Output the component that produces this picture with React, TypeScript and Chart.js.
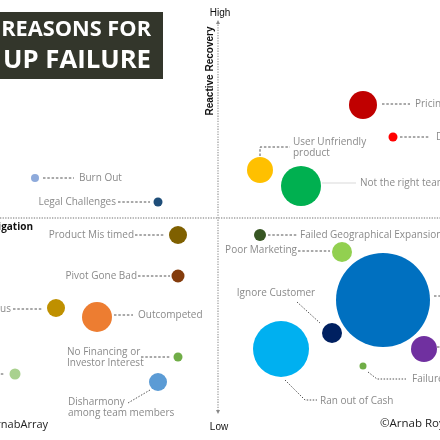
import React, { useEffect, useRef } from "react";
import { Chart, registerables } from "chart.js";

Chart.register(...registerables);

// ---- data ----
const reasons: string[] = [
  "Burn Out",
  "Legal Challenges",
  "Pricing / Cost Issues",
  "Don't Use Network",
  "User Unfriendly\nproduct",
  "Not the right team",
  "Product Mis timed",
  "Pivot Gone Bad",
  "Lose Focus",
  "Outcompeted",
  "No Financing or\nInvestor Interest",
  "Lack Passion",
  "Disharmony\namong team members",
  "Failed Geographical Expansion",
  "Poor Marketing",
  "No Market Need",
  "Ignore Customer",
  "Ran out of Cash",
  "Product Without Business Model",
  "Failure to Pivot",
];
// x: Proactive Mitigation, y: Reactive Recovery
const mitigation: number[] = [-183, -60, 145, 175, 42, 83, -40, -40, -162, -121, -40, -203, -60, 42, 124, 165, 114, 63, 206, 145];
const recovery: number[] = [40, 16, 113, 81, 48, 32, -17, -58, -90, -99, -139, -156, -164, -17, -34, -82, -115, -131, -131, -148];
const impact: number[] = [4, 4.5, 14, 4.5, 13, 20, 9, 6.5, 9, 15, 4.5, 5.5, 9, 6, 10, 47, 10, 28, 13, 3.5];
const colors: string[] = [
  "#8eaadb", "#1f4e79", "#c00000", "#ff0000", "#ffc000", "#00b050",
  "#7f6000", "#843c0c", "#bf9000", "#ed7d31", "#70ad47", "#a9d18e",
  "#5b9bd5", "#375623", "#92d050", "#0070c0", "#002060", "#00b0f0",
  "#7030a0", "#70ad47",
];
const X_MIN = -218, X_MAX = 222, Y_MIN = -222, Y_MAX = 218;
const AXIS_HIGH = 196, AXIS_LOW = -194;
const titleLines = ["REASONS FOR", "UP FAILURE"];

// ---- label layout (offsets from bubble centre, px) ----
type Lbl = { dx: number; dy: number; align: CanvasTextAlign; path: number[][]; style?: "dash" | "solid" | "dot" };
const labelLayout: Lbl[] = [
  { dx: 44, dy: 0, align: "left", path: [[8, 0], [39, 0]] },
  { dx: -42, dy: 0, align: "right", path: [[-40, 0], [-8, 0]] },
  { dx: 52, dy: -1, align: "left", path: [[19, -1], [47, -1]] },
  { dx: 43, dy: 0, align: "left", path: [[7, 0], [37, 0]] },
  { dx: 33, dy: -28, align: "left", path: [[0, -14], [0, -23], [30, -23]] },
  { dx: 59, dy: -3, align: "left", path: [[21, -3], [55, -3]], style: "solid" },
  { dx: -44, dy: 0, align: "right", path: [[-43, 0], [-13, 0]] },
  { dx: -41, dy: 0, align: "right", path: [[-40, 0], [-8, 0]] },
  { dx: -45, dy: 1, align: "right", path: [[-43, 1], [-14, 1]] },
  { dx: 41, dy: -2, align: "left", path: [[17, -2], [36, -2]] },
  { dx: -111, dy: -5, align: "left", path: [[-37, 0], [-8, 0]] },
  { dx: -44, dy: 0, align: "right", path: [[-40, 0], [-11, 0]] },
  { dx: -90, dy: 20, align: "left", path: [[-8, 8], [-30, 21]], style: "dot" },
  { dx: 40, dy: 0, align: "left", path: [[8, 0], [38, 0]] },
  { dx: -45, dy: -2, align: "right", path: [[-44, -1], [-12, -1]] },
  { dx: 85, dy: -4, align: "left", path: [[51, -4], [80, -4]] },
  { dx: -56, dy: -40, align: "center", path: [[-35, -31], [-12, -10]], style: "dot" },
  { dx: 39, dy: 52, align: "left", path: [[4, 31], [24, 51], [36, 51]], style: "dot" },
  { dx: 45, dy: -2, align: "left", path: [[13, -2], [40, -2]] },
  { dx: 49, dy: 13, align: "left", path: [[5, 6], [14, 13], [43, 13]], style: "dot" },
];

const LABEL_FONT = '10px "Open Sans"';

const overlay = {
  id: "overlay",
  beforeDatasetsDraw(chart: any) {
    const ctx: CanvasRenderingContext2D = chart.ctx;
    const xs = chart.scales.x, ys = chart.scales.y;
    const ox = xs.getPixelForValue(0), oy = ys.getPixelForValue(0);
    const top = ys.getPixelForValue(AXIS_HIGH), bot = ys.getPixelForValue(AXIS_LOW);
    ctx.save();
    ctx.strokeStyle = "#a0a0a0";
    ctx.lineWidth = 1.3;
    ctx.setLineDash([1.3, 1.3]);
    ctx.beginPath();
    ctx.moveTo(0, oy);
    ctx.lineTo(chart.width, oy);
    ctx.stroke();
    ctx.beginPath();
    ctx.moveTo(ox, top);
    ctx.lineTo(ox, bot);
    ctx.stroke();
    ctx.setLineDash([]);
    ctx.fillStyle = "#888";
    ctx.beginPath();
    ctx.moveTo(ox, top - 2); ctx.lineTo(ox - 2, top + 2); ctx.lineTo(ox + 2, top + 2); ctx.closePath(); ctx.fill();
    ctx.beginPath();
    ctx.moveTo(ox, bot + 2); ctx.lineTo(ox - 2, bot - 2); ctx.lineTo(ox + 2, bot - 2); ctx.closePath(); ctx.fill();

    // axis titles
    ctx.fillStyle = "#111";
    ctx.textBaseline = "middle";
    ctx.textAlign = "center";
    ctx.font = '10px "Liberation Sans"';
    ctx.fillText("High", ox + 2, top - 9);
    ctx.fillText("Low", ox + 1, bot + 15);
    ctx.save();
    ctx.translate(ox - 8, top + 49);
    ctx.rotate(-Math.PI / 2);
    ctx.font = 'bold 10px "Liberation Sans"';
    ctx.fillText("Reactive Recovery", 0, 0);
    ctx.restore();
    ctx.textAlign = "right";
    ctx.font = 'bold 10px "Open Sans"';
    ctx.fillText("Proactive Mitigation", 33, oy + 9);
    ctx.restore();
  },
  afterDatasetsDraw(chart: any) {
    const ctx: CanvasRenderingContext2D = chart.ctx;
    const meta = chart.getDatasetMeta(0);
    ctx.save();
    meta.data.forEach((el: any, i: number) => {
      const L = labelLayout[i];
      const cx = el.x, cy = el.y;
      ctx.beginPath();
      L.path.forEach((p, k) => {
        if (k === 0) ctx.moveTo(cx + p[0], cy + p[1]);
        else ctx.lineTo(cx + p[0], cy + p[1]);
      });
      if (L.style === "solid") {
        ctx.setLineDash([]);
        ctx.strokeStyle = "#d9d9d9";
        ctx.lineWidth = 1;
      } else if (L.style === "dot") {
        ctx.setLineDash([1.5, 1.5]);
        ctx.strokeStyle = "#555";
        ctx.lineWidth = 1;
      } else {
        ctx.setLineDash([2.5, 1.8]);
        ctx.strokeStyle = "#555";
        ctx.lineWidth = 1;
      }
      ctx.stroke();
      ctx.setLineDash([]);
      ctx.fillStyle = "#8a8a8a";
      ctx.font = LABEL_FONT;
      ctx.textAlign = L.align;
      ctx.textBaseline = "middle";
      reasons[i].split("\n").forEach((line, k) => {
        ctx.fillText(line, cx + L.dx, cy + L.dy + k * 11);
      });
    });
    ctx.restore();
  },
  afterDraw(chart: any) {
    const ctx: CanvasRenderingContext2D = chart.ctx;
    ctx.save();
    // title box
    ctx.fillStyle = "#33362b";
    ctx.fillRect(0, 12, 163, 67);
    ctx.fillStyle = "#ffffff";
    ctx.textAlign = "right";
    ctx.textBaseline = "alphabetic";
    const fit = (txt: string, target: number, weight: string) => {
      ctx.font = `${weight} 100px "Open Sans"`;
      const w = ctx.measureText(txt).width;
      return (100 * target) / w;
    };
    const s1 = fit(titleLines[0], 150, "bold");
    ctx.font = `bold ${s1}px "Open Sans"`;
    ctx.fillText(titleLines[0], 151, 36);
    const s2 = fit(titleLines[1], 148, "bold");
    ctx.font = `bold ${s2}px "Open Sans"`;
    ctx.fillText(titleLines[1], 151, 68);

    // footer
    ctx.fillStyle = "#222";
    ctx.textBaseline = "middle";
    ctx.font = '11px "Open Sans"';
    ctx.textAlign = "right";
    ctx.fillText("@ArnabArray", 48, 425);
    ctx.textAlign = "left";
    ctx.font = '11.5px "Open Sans"';
    ctx.fillText("\u00A9Arnab Roy", 380, 424);
    ctx.restore();
  },
};

export default function App() {
  const ref = useRef<HTMLCanvasElement | null>(null);
  useEffect(() => {
    if (!ref.current) return;
    const chart = new Chart(ref.current, {
      type: "bubble",
      data: {
        datasets: [
          {
            label: "Reasons",
            data: reasons.map((_, i) => ({ x: mitigation[i], y: recovery[i], r: impact[i] })),
            backgroundColor: colors,
            borderWidth: 0,
            clip: false as any,
          },
        ],
      },
      options: {
        responsive: false,
        animation: false,
        events: [],
        layout: { padding: 0, autoPadding: false },
        plugins: { legend: { display: false }, tooltip: { enabled: false } },
        scales: {
          x: { type: "linear", min: X_MIN, max: X_MAX, display: false },
          y: { type: "linear", min: Y_MIN, max: Y_MAX, display: false },
        },
      },
      plugins: [overlay],
    });
    return () => chart.destroy();
  }, []);
  return (
    <div style={{ position: "fixed", left: 0, top: 0, width: 440, height: 440, background: "#fff" }}>
      <canvas ref={ref} width={440} height={440} style={{ display: "block", width: 440, height: 440 }} />
    </div>
  );
}
